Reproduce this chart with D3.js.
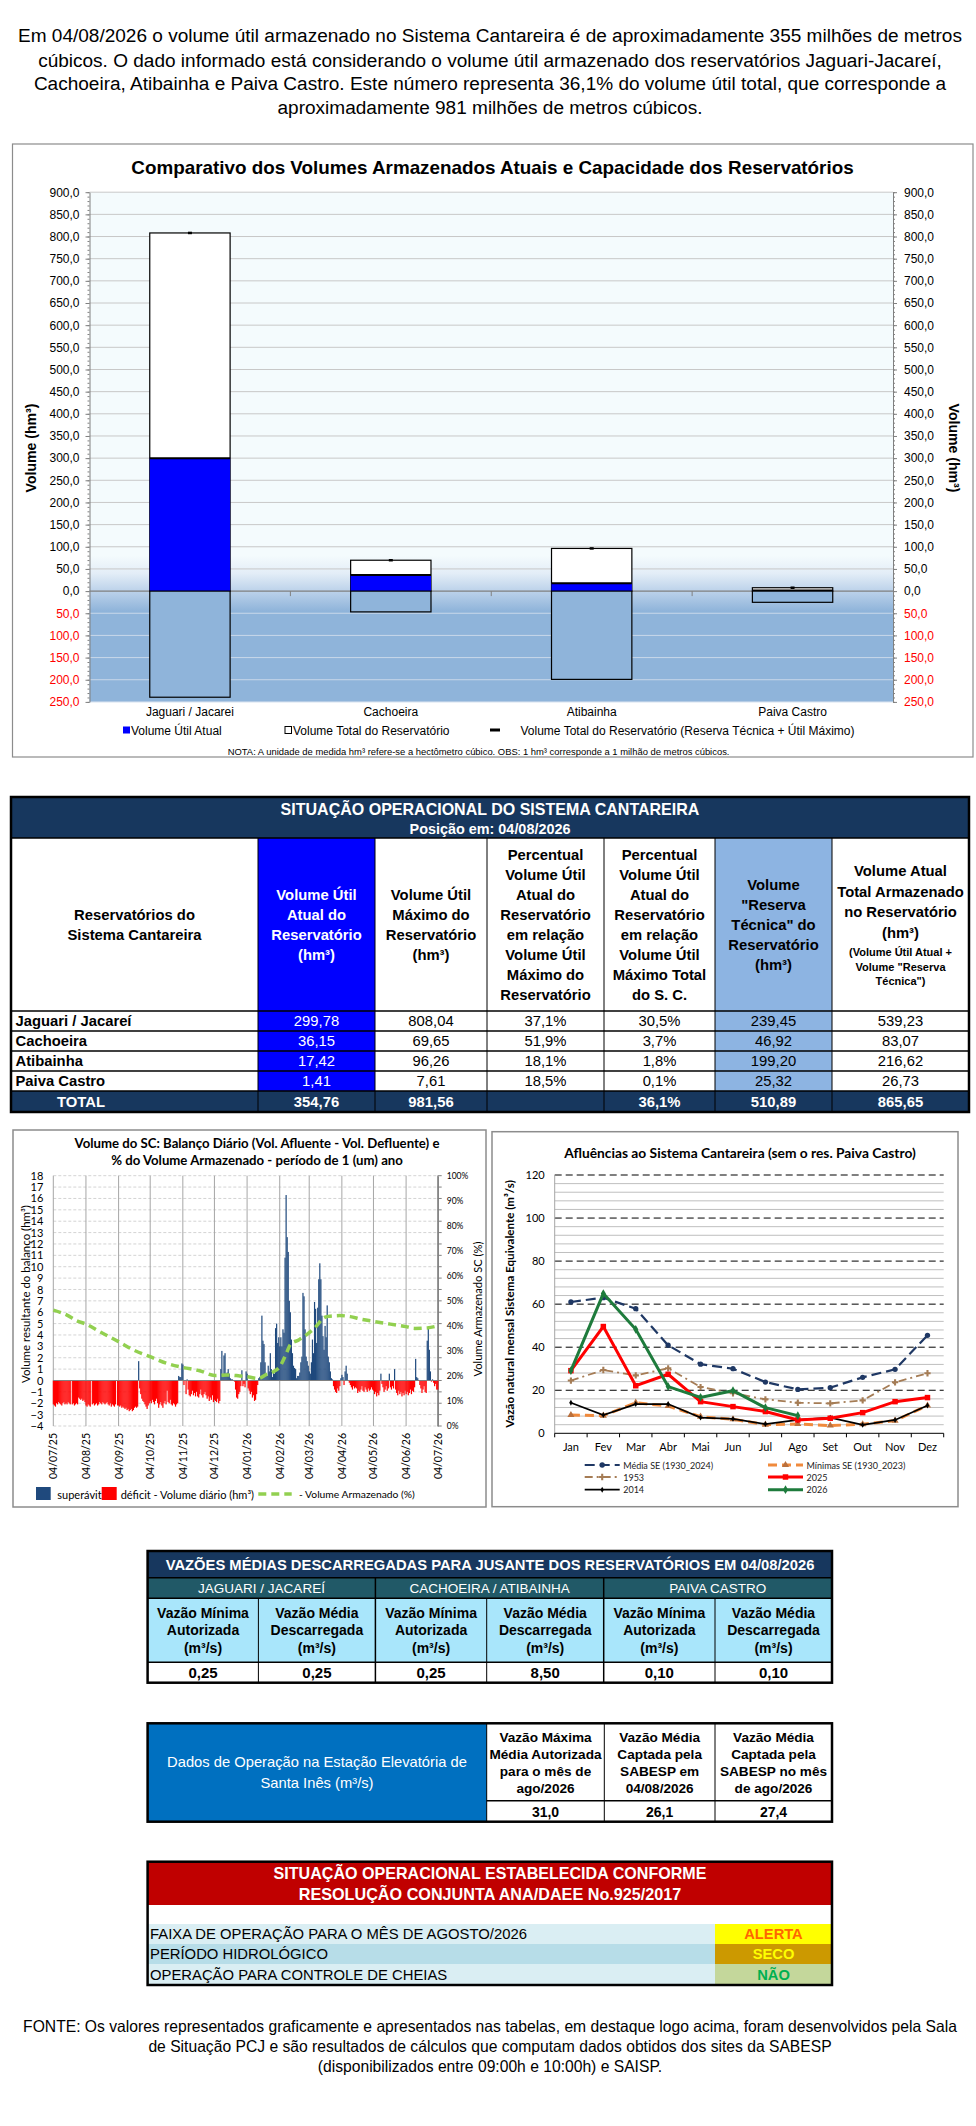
<!DOCTYPE html>
<html>
<head>
<meta charset="utf-8">
<script src="https://cdn.jsdelivr.net/npm/d3@7"></script>
<style>
  body { margin: 0; background: #fff; }
  svg { display: block; }
</style>
</head>
<body>
<svg id="pg" width="976" height="2126"></svg>
<script>
/** dados **/
var paragrafo = [
  "Em 04/08/2026 o volume útil armazenado no Sistema Cantareira é de aproximadamente 355 milhões de metros",
  "cúbicos. O dado informado está considerando o volume útil armazenado dos reservatórios Jaguari-Jacareí,",
  "Cachoeira, Atibainha e Paiva Castro. Este número representa 36,1% do volume útil total, que corresponde a",
  "aproximadamente 981 milhões de metros cúbicos."
];
var barCats = ["Jaguari / Jacarei", "Cachoeira", "Atibainha", "Paiva Castro"];
var reservatorios = ["Jaguari / Jacareí", "Cachoeira", "Atibainha", "Paiva Castro"];
var volUtilAtual = [299.78, 36.15, 17.42, 1.41];
var volUtilMax = [808.04, 69.65, 96.26, 7.61];
var pctUtilMax = [37.1, 51.9, 18.1, 18.5];
var pctTotalSC = [30.5, 3.7, 1.8, 0.1];
var reservaTecnica = [239.45, 46.92, 199.20, 25.32];
var volAtualTotal = [539.23, 83.07, 216.62, 26.73];

var cabecalho = [
  ["Reservatórios do", "Sistema Cantareira"],
  ["Volume Útil", "Atual do", "Reservatório", "(hm³)"],
  ["Volume Útil", "Máximo do", "Reservatório", "(hm³)"],
  ["Percentual", "Volume Útil", "Atual do", "Reservatório", "em relação", "Volume Útil", "Máximo do", "Reservatório"],
  ["Percentual", "Volume Útil", "Atual do", "Reservatório", "em relação", "Volume Útil", "Máximo Total", "do S. C."],
  ["Volume", "\"Reserva", "Técnica\" do", "Reservatório", "(hm³)"],
  ["Volume Atual", "Total Armazenado", "no Reservatório", "(hm³)"]
];
var cabecalhoNota = ["(Volume Útil Atual +", "Volume \"Reserva", "Técnica\")"];

// balanço diário (hm³), um valor por dia a partir de 04/07/25
var balanco = [
  // 04/07 - 03/08
  -2.1,-2.2,-2.3,-2.0,-2.1,-1.9,-2.0,-2.1,-2.2,-2.0,-1.9,-2.1,-2.0,-2.1,-1.9,-2.0,-2.1,0,-2.1,-2.0,-2.2,-2.1,-2.0,-2.1,-1.5,-1.6,-1.7,-1.6,-1.8,-1.7,-1.9,
  // 04/08 - 03/09
  -2.2,-2.3,-2.1,-2.2,-2.3,0,-2.1,-2.0,-2.2,-2.1,-2.0,-2.2,-2.1,-1.9,-2.0,-2.1,-1.9,-2.0,-2.1,-2.0,-1.9,-2.1,-2.2,-2.0,-2.3,-2.1,-2.2,-2.3,-2.1,0,-2.2,
  // 04/09 - 03/10
  -2.2,-2.3,-2.2,-2.4,-2.3,-2.4,-2.5,-2.4,-2.6,-2.5,-2.7,-2.6,-2.5,-2.7,-2.6,-2.4,-2.3,-2.4,-2.3,1.7,-0.7,-1.2,-1.6,-1.8,-1.9,-2.1,-2.3,-2.5,-2.2,-2.0,
  // 04/10 - 03/11
  -1.8,-2.0,-1.7,-1.9,-2.1,-1.8,-1.6,-2.0,-2.4,-2.1,-1.9,-2.2,-2.4,-2.0,-1.8,-2.1,-0.9,-1.9,-2.0,-1.7,-2.1,-2.2,-2.0,-2.1,-2.3,-2.1,-2.0,0.4,0.3,0.3,1.5,
  // 04/11 - 03/12
  1.4,-0.4,0,-1.2,0.1,-0.8,-1.3,-1.4,-1.2,-0.9,-1.3,-1.1,-1.4,-1.0,-1.4,-1.5,-1.2,-0.8,-1.3,-1.5,-1.2,-1.0,-1.3,-1.6,-1.4,-1.8,-1.5,-1.7,-1.3,-1.9,
  // 04/12 - 03/01
  -1.7,-1.8,-1.9,-1.6,-2.0,-1.8,1.0,2.6,0.3,2.2,2.4,0.6,0.7,1.0,0.6,0.2,0.1,0.1,0,-0.1,-0.8,-1.5,-1.6,-1.2,-1.0,-0.5,0.9,-0.5,-0.3,-0.6,0.8,
  // 04/01 - 03/02
  0.6,-0.7,-0.9,-1.2,-1.0,-1.5,-1.3,-1.8,-1.7,-1.2,-0.4,0.2,0.3,1.6,5.7,3.5,3.2,1.6,0.4,0.4,1.3,0.8,2.4,1.0,0.3,0.7,0.6,4.6,5.0,3.3,3.8,
  // 04/02 - 03/03
  3.0,3.8,3.0,4.5,4.2,10.8,16.3,12.6,11.3,7.0,6.0,3.6,2.4,1.3,1.1,1.0,0.2,0.4,0.4,0.7,1.6,2.1,7.7,7.4,4.5,2.1,1.7,1.3,
  // 04/03 - 03/04
  0.8,0.6,1.6,3.6,2.4,6.9,6.3,3.3,6.4,8.9,10.3,8.9,5.7,3.9,2.7,4.8,3.8,6.6,2.1,1.6,0.8,0.2,0.1,-0.5,-0.8,-1.0,-1.1,-0.7,-0.9,-0.5,0.2,
  // 04/04 - 03/05
  0.5,0.3,-0.4,0.8,1.3,0.6,0,-0.2,-0.4,-0.6,-0.8,-0.5,-0.7,-0.6,-0.7,-1.1,-0.9,-1.0,-0.8,-0.5,-0.9,-1.0,-0.6,-0.8,-1.0,-0.7,-0.9,-0.8,-0.6,-0.8,
  // 04/05 - 03/06
  -0.9,-1.2,-1.0,-1.4,-1.1,-1.3,-0.9,0.6,-0.3,-0.6,-1.0,-0.8,-0.5,-0.9,-0.7,0.6,-0.6,-0.8,-0.5,-0.7,1.0,-0.8,-1.1,-1.3,-0.9,-1.2,-1.0,-1.4,-1.1,-1.3,-0.9,
  // 04/06 - 04/07
  -1.2,-1.0,-1.3,-1.1,-0.8,-1.2,-0.9,-1.0,-0.6,1.9,0.3,0.2,0,-0.4,-0.7,-1.1,-0.8,-0.5,-1.0,-1.1,3.5,4.6,2.7,0.8,-0.1,0.1,-0.2,-0.5,-0.3,-0.8,-0.8
];
// volume armazenado (%) : [dia desde 04/07/25, %]
var volArmazenado = [
  [0,46.3],[13,44.3],[22,42.1],[31,40.7],[44,37.7],[62,33.7],[76,30.4],[92,27.7],[108,25.0],
  [123,23.4],[139,22.1],[153,20.2],[165,20.4],[177,20.0],[184,19.7],[195,19.0],[202,20.5],
  [209,21.7],[215,23.7],[222,29.7],[225,32.5],[233,34.4],[240,36.3],[250,40.0],[256,43.0],
  [261,43.8],[272,44.1],[282,43.7],[292,42.7],[304,41.8],[320,40.7],[335,39.7],[343,39.0],
  [355,39.2],[365,40.0]
];
var mesTicks = ["04/07/25","04/08/25","04/09/25","04/10/25","04/11/25","04/12/25","04/01/26",
  "04/02/26","04/03/26","04/04/26","04/05/26","04/06/26","04/07/26"];

var meses = ["Jan","Fev","Mar","Abr","Mai","Jun","Jul","Ago","Set","Out","Nov","Dez"];
var mediaSE = [61.0, 63.0, 57.9, 40.9, 32.1, 30.0, 23.8, 20.4, 21.2, 26.0, 29.7, 45.5];
var minimasSE = [8.5, 8.2, 14.2, 12.7, 7.7, 6.5, 4.0, 4.3, 3.6, 4.2, 5.9, 12.9];
var ano1953 = [24.5, 29.4, 26.9, 30.2, 21.5, 18.6, 15.8, 14.2, 13.9, 15.3, 23.7, 27.9];
var ano2025 = [29.1, 49.6, 22.1, 27.4, 14.7, 12.4, 10.1, 6.2, 7.0, 9.6, 14.7, 16.6];
var ano2014 = [14.2, 8.5, 13.6, 13.6, 7.3, 6.7, 4.3, 6.2, 7.3, 3.9, 6.2, 12.9];
var ano2026 = [29.1, 64.9, 48.3, 21.7, 16.7, 19.8, 11.9, 8.2];

var grupos = ["JAGUARI / JACAREÍ", "CACHOEIRA / ATIBAINHA", "PAIVA CASTRO"];
var cabVazao = [["Vazão Mínima", "Autorizada", "(m³/s)"], ["Vazão Média", "Descarregada", "(m³/s)"]];
var vazaoMinima = [0.25, 0.25, 0.10];
var vazaoMedia = [0.25, 8.50, 0.10];

var cabSantaInes = [
  ["Vazão Máxima", "Média Autorizada", "para o mês de", "ago/2026"],
  ["Vazão Média", "Captada pela", "SABESP em", "04/08/2026"],
  ["Vazão Média", "Captada pela", "SABESP no mês", "de ago/2026"]
];
var valSantaInes = [31.0, 26.1, 27.4];

var situacaoItens = ["FAIXA DE OPERAÇÃO PARA O MÊS DE AGOSTO/2026", "PERÍODO HIDROLÓGICO", "OPERAÇÃO PARA CONTROLE DE CHEIAS"];
var situacaoValores = ["ALERTA", "SECO", "NÃO"];

var fonte = [
  "FONTE: Os valores representados graficamente e apresentados nas tabelas, em destaque logo acima, foram desenvolvidos pela Sala",
  "de Situação PCJ e são resultados de cálculos que computam dados obtidos dos sites da SABESP",
  "(disponibilizados entre 09:00h e 10:00h) e SAISP."
];

/** helpers **/
var F = "'Liberation Sans', Arial, sans-serif";
var FC = "Lato, 'Open Sans', sans-serif";
var svg = d3.select("#pg");
var br = d3.formatLocale({decimal: ",", thousands: ".", grouping: [3], currency: ["", ""]});
var f1 = br.format(".1f"), f2 = br.format(".2f");

function fit(t, w) {
  var cur = t.node().getComputedTextLength();
  if (cur > 0) t.attr("font-size", parseFloat(t.attr("font-size")) * w / cur);
  return +t.attr("font-size");
}
function txt(g, x, y, s, o) {
  o = o || {};
  var t = g.append("text").attr("x", x).attr("y", y)
    .attr("font-family", o.ff || F).attr("font-size", o.fs || 12)
    .attr("font-weight", o.fw || "normal").attr("fill", o.fill || "#000")
    .attr("text-anchor", o.anchor || "middle").attr("dominant-baseline", "central")
    .text(s);
  if (o.rot) t.attr("transform", "rotate(" + o.rot + "," + x + "," + y + ")");
  if (o.fit) fit(t, o.fit);
  return t;
}
function block(g, cx, cy, arr, lh, o) {
  arr.forEach(function(s, i) { txt(g, cx, cy + (i - (arr.length - 1) / 2) * lh, s, o); });
}
function rect(g, x0, y0, x1, y1, fill, stroke, sw) {
  return g.append("rect").attr("x", x0).attr("y", y0).attr("width", x1 - x0).attr("height", y1 - y0)
    .attr("fill", fill || "none").attr("stroke", stroke || "none").attr("stroke-width", sw || 1);
}
function line(g, x1, y1, x2, y2, stroke, sw, dash) {
  var l = g.append("line").attr("x1", x1).attr("y1", y1).attr("x2", x2).attr("y2", y2)
    .attr("stroke", stroke).attr("stroke-width", sw || 1);
  if (dash) l.attr("stroke-dasharray", dash);
  return l;
}

/** paragrafo **/
var gp = svg.append("g");
var pfs = fit(txt(gp, 490, 35, paragrafo[0], {fs: 18}), 945);
[60, 83.5, 107].forEach(function(y, i) { txt(gp, 490, y, paragrafo[i + 1], {fs: pfs}); });

/** grafico de barras **/
var bc = svg.append("g");
rect(bc, 12.5, 144, 973, 757, "#fff", "#8c8c8c", 1.2);
var yB = d3.scaleLinear().domain([-250, 900]).range([701.9, 192.2]);
var xB = d3.scaleBand().domain(barCats).range([89.5, 893]).paddingInner(0.6).paddingOuter(0.3);

var defs = svg.append("defs");
var lg = defs.append("linearGradient").attr("id", "bgGrad").attr("gradientUnits", "userSpaceOnUse")
  .attr("x1", 0).attr("x2", 0).attr("y1", yB(900)).attr("y2", yB(-250));
var off = function(v) { return (yB(v) - yB(900)) / (yB(-250) - yB(900)); };
[[900, "#f4fbfd"], [80, "#f4fbfd"], [40, "#e3edf7"], [0, "#bcd2ea"], [-45, "#8fb4da"], [-250, "#8fb4da"]]
  .forEach(function(s) { lg.append("stop").attr("offset", off(s[0])).attr("stop-color", s[1]); });
rect(bc, 89.5, yB(900), 893, yB(-250), "url(#bgGrad)");

var yTicksB = d3.range(-250, 901, 50);
bc.append("g").selectAll("line").data(yTicksB.filter(function(v) { return v !== 0; })).enter().append("line")
  .attr("x1", 89.5).attr("x2", 893).attr("y1", yB).attr("y2", yB)
  .attr("stroke", function(v) { return v < 0 ? "#c9d8ea" : "#c8c8c8"; }).attr("stroke-width", 1);
line(bc, 89.5, yB(0), 893, yB(0), "#7f7f7f", 1.2);

function eixoB(x, gen, pad) {
  var a = bc.append("g").attr("transform", "translate(" + x + ",0)")
    .call(gen(yB).tickValues(yTicksB).tickSize(4).tickSizeOuter(0).tickPadding(pad)
      .tickFormat(function(v) { return f1(Math.abs(v)); }));
  a.attr("font-family", F).attr("font-size", 12);
  a.selectAll("text").attr("fill", function(v) { return v < 0 ? "#ff0000" : "#000"; });
  a.selectAll("line,path").attr("stroke", "#808080");
  var m = bc.append("g").attr("transform", "translate(" + x + ",0)")
    .call(gen(yB).tickValues(d3.range(-250, 901, 10)).tickSize(2).tickSizeOuter(0).tickFormat(""));
  m.selectAll("line").attr("stroke", "#808080");
  m.select(".domain").remove();
}
eixoB(89.5, d3.axisLeft, 6);
eixoB(893, d3.axisRight, 7);

d3.range(1, barCats.length).forEach(function(i) {
  var x = 89.5 + i * xB.step();
  line(bc, x, yB(0), x, yB(0) + 5, "#808080", 1);
});

var bars = bc.append("g").selectAll("g").data(barCats).enter().append("g");
bars.append("rect").attr("x", function(d) { return xB(d); }).attr("width", xB.bandwidth())
  .attr("y", function(d, i) { return yB(volUtilMax[i]); })
  .attr("height", function(d, i) { return yB(0) - yB(volUtilMax[i]); })
  .attr("fill", "#fff").attr("stroke", "#000").attr("stroke-width", 1.2);
bars.append("rect").attr("x", function(d) { return xB(d); }).attr("width", xB.bandwidth())
  .attr("y", function(d, i) { return yB(volUtilAtual[i]); })
  .attr("height", function(d, i) { return yB(0) - yB(volUtilAtual[i]); })
  .attr("fill", "#0000ff");
bars.append("line").attr("x1", function(d) { return xB(d); }).attr("x2", function(d) { return xB(d) + xB.bandwidth(); })
  .attr("y1", function(d, i) { return yB(volUtilAtual[i]); }).attr("y2", function(d, i) { return yB(volUtilAtual[i]); })
  .attr("stroke", "#000").attr("stroke-width", 2);
bars.append("rect").attr("x", function(d) { return xB(d); }).attr("width", xB.bandwidth())
  .attr("y", yB(0))
  .attr("height", function(d, i) { return yB(-reservaTecnica[i]) - yB(0); })
  .attr("fill", "#8fb4da").attr("stroke", "#000").attr("stroke-width", 1.2);
bars.append("line").attr("x1", function(d) { return xB(d) + xB.bandwidth() / 2 - 2; })
  .attr("x2", function(d) { return xB(d) + xB.bandwidth() / 2 + 2; })
  .attr("y1", function(d, i) { return yB(volUtilMax[i]); }).attr("y2", function(d, i) { return yB(volUtilMax[i]); })
  .attr("stroke", "#000").attr("stroke-width", 2.5);

barCats.forEach(function(c) { txt(bc, xB(c) + xB.bandwidth() / 2, 712, c, {fs: 12}); });
txt(bc, 492.5, 167, "Comparativo dos Volumes Armazenados Atuais e Capacidade dos Reservatórios", {fs: 17, fw: "bold", fit: 723});
txt(bc, 31, 448, "Volume (hm³)", {fs: 13, fw: "bold", rot: -90, fit: 89});
txt(bc, 954, 448, "Volume (hm³)", {fs: 13, fw: "bold", rot: 90, fit: 89});

rect(bc, 123, 726.5, 130, 733.5, "#0000ff");
txt(bc, 131, 730.5, "Volume Útil Atual", {fs: 12, anchor: "start"});
rect(bc, 285, 726.5, 291.5, 733.5, "#fff", "#000", 1);
txt(bc, 293, 730.5, "Volume Total do Reservatório", {fs: 12, anchor: "start"});
line(bc, 490, 730, 500, 730, "#000", 3);
txt(bc, 520.5, 730.5, "Volume Total do Reservatório (Reserva Técnica + Útil Máximo)", {fs: 12, anchor: "start"});
txt(bc, 478.6, 751, "NOTA: A unidade de medida hm³ refere-se a hectômetro cúbico. OBS: 1 hm³ corresponde a 1 milhão de metros cúbicos.", {fs: 8.5, fit: 503});

/** tabela situação operacional **/
var tb = svg.append("g");
var colX = [11, 258, 375, 487, 604, 715, 832, 969];
var rowY = [797, 838, 1011, 1031, 1051, 1071, 1091, 1112];
var navy = "#17375e";
rect(tb, colX[0], rowY[0], colX[7], rowY[1], navy);
rect(tb, colX[0], rowY[6], colX[7], rowY[7], navy);
[[1, "#0000ff"], [5, "#8db4e2"]].forEach(function(c) {
  rect(tb, colX[c[0]], rowY[1], colX[c[0] + 1], rowY[6], c[1]);
});
txt(tb, 490, 808.5, "SITUAÇÃO OPERACIONAL DO SISTEMA CANTAREIRA", {fs: 14.5, fw: "bold", fill: "#fff", fit: 419});
txt(tb, 490, 829, "Posição em: 04/08/2026", {fs: 14, fw: "bold", fill: "#fff", fit: 161});

cabecalho.forEach(function(h, c) {
  var cx = (colX[c] + colX[c + 1]) / 2;
  var col = c === 1 ? "#fff" : "#000";
  if (c === 6) {
    h.forEach(function(s, i) { txt(tb, cx, 871 + i * 20.5, s, {fs: 14.8, fw: "bold"}); });
    cabecalhoNota.forEach(function(s, i) { txt(tb, cx, 952 + i * 14.5, s, {fs: 11, fw: "bold"}); });
  } else {
    block(tb, cx, 925, h, 20, {fs: 14.8, fw: "bold", fill: col});
  }
});

var linhas = reservatorios.map(function(r, i) {
  return [r, f2(volUtilAtual[i]), f2(volUtilMax[i]), f1(pctUtilMax[i]) + "%", f1(pctTotalSC[i]) + "%",
    f2(reservaTecnica[i]), f2(volAtualTotal[i])];
});
linhas.forEach(function(l, r) {
  var cy = (rowY[r + 2] + rowY[r + 3]) / 2;
  l.forEach(function(s, c) {
    if (c === 0) txt(tb, 15.5, cy, s, {fs: 14.8, fw: "bold", anchor: "start"});
    else txt(tb, (colX[c] + colX[c + 1]) / 2, cy, s, {fs: 14.8, fill: c === 1 ? "#fff" : "#000"});
  });
});
var totais = ["TOTAL", f2(d3.sum(volUtilAtual)), f2(d3.sum(volUtilMax)), "",
  f1(d3.sum(volUtilAtual) / d3.sum(volUtilMax) * 100) + "%", f2(d3.sum(reservaTecnica)), f2(d3.sum(volAtualTotal))];
totais.forEach(function(s, c) {
  var cx = c === 0 ? 81 : (colX[c] + colX[c + 1]) / 2;
  txt(tb, cx, 1101.5, s, {fs: 14.8, fw: "bold", fill: "#fff"});
});
d3.range(1, 7).forEach(function(c) { line(tb, colX[c], rowY[1], colX[c], rowY[7], "#000", 1); });
d3.range(1, 7).forEach(function(r) { line(tb, colX[0], rowY[r], colX[7], rowY[r], "#000", 1.5); });
rect(tb, colX[0], rowY[0], colX[7], rowY[7], "none", "#000", 2.5);

/** balanço diário **/
var gl = svg.append("g");
rect(gl, 13, 1130, 486, 1507, "#fff", "#8c8c8c", 1.5);
var t0 = new Date(2025, 6, 4);
var xL = d3.scaleTime().domain([t0, new Date(2026, 6, 4)]).range([53.3, 437.7]);
var yL = d3.scaleLinear().domain([-4, 18]).range([1426, 1175.7]);
var yL2 = d3.scaleLinear().domain([0, 100]).range([1426, 1175.7]);
var dia = function(i) { return d3.timeDay.offset(t0, i); };
var parseTick = d3.timeParse("%d/%m/%y");

d3.range(-4, 19).forEach(function(v) {
  if (v !== 0) line(gl, 53.3, yL(v), 437.7, yL(v), "#d4d4d4", 1, "3,2");
});
mesTicks.forEach(function(s) {
  var x = xL(parseTick(s));
  line(gl, x, 1175.7, x, 1426, "#a6a6a6", 1);
});
var ayL = gl.append("g").attr("transform", "translate(53.3,0)")
  .call(d3.axisLeft(yL).tickValues(d3.range(-4, 19)).tickSize(0).tickPadding(10).tickFormat(d3.format("d")));
ayL.attr("font-family", FC).attr("font-size", 11);
ayL.select(".domain").remove();
var ayR = gl.append("g").attr("transform", "translate(437.7,0)")
  .call(d3.axisRight(yL2).tickValues(d3.range(0, 101, 10)).tickSize(0).tickPadding(9)
    .tickFormat(function(v) { return v + "%"; }));
ayR.attr("font-family", FC).attr("font-size", 8.5);
ayR.select(".domain").attr("stroke", "#808080").attr("stroke-width", 1.5);
d3.range(-4, 19).forEach(function(v) { line(gl, 437.7, yL(v), 441.7, yL(v), "#808080", 1); });

var bw = xL(dia(1)) - xL(dia(0));
gl.append("g").selectAll("rect").data(balanco).enter().append("rect")
  .attr("x", function(d, i) { return xL(dia(i)) - bw / 2; })
  .attr("width", bw + 0.15)
  .attr("y", function(d) { return d >= 0 ? yL(d) : yL(0); })
  .attr("height", function(d) { return Math.abs(yL(d) - yL(0)); })
  .attr("fill", function(d) { return d >= 0 ? "#1f497d" : "#ff0000"; });
line(gl, 53.3, yL(0), 437.7, yL(0), "#808080", 1.2);

gl.append("path").datum(volArmazenado)
  .attr("d", d3.line().x(function(d) { return xL(dia(d[0])); }).y(function(d) { return yL2(d[1]); }).curve(d3.curveMonotoneX))
  .attr("fill", "none").attr("stroke", "#92d050").attr("stroke-width", 3.5).attr("stroke-dasharray", "8,5");

mesTicks.forEach(function(s) {
  txt(gl, xL(parseTick(s)), 1433, s, {ff: FC, fs: 10.5, anchor: "end", rot: -90});
});
var tfs = fit(txt(gl, 257, 1143, "Volume do SC: Balanço Diário (Vol. Afluente - Vol. Defluente) e", {ff: FC, fs: 12.5, fw: "bold"}), 365);
txt(gl, 257, 1159.5, "% do Volume Armazenado - período de 1 (um) ano", {ff: FC, fs: tfs, fw: "bold"});
txt(gl, 25, 1294, "Volume resultante do balanço (hm³)", {ff: FC, fs: 11.5, rot: -90, fit: 178});
txt(gl, 477, 1309, "Volume Armazenado SC (%)", {ff: FC, fs: 11.5, rot: -90, fit: 135});

rect(gl, 36, 1487, 50.7, 1500, "#1f497d");
txt(gl, 57.3, 1494, "superávit", {ff: FC, fs: 11, anchor: "start"});
rect(gl, 101.7, 1487, 116.7, 1500, "#ff0000");
txt(gl, 120.7, 1494, "déficit -  Volume diário (hm³)", {ff: FC, fs: 11, anchor: "start"});
line(gl, 258.3, 1494, 291.7, 1494, "#92d050", 3.5, "8,5");
txt(gl, 299, 1494, "-  Volume Armazenado (%)", {ff: FC, fs: 11, anchor: "start", fit: 116});

/** afluências **/
var gr = svg.append("g");
rect(gr, 492, 1131.7, 958, 1506.7, "#fff", "#8c8c8c", 1.5);
var xR = d3.scaleBand().domain(meses).range([554.7, 943.7]);
var yR = d3.scaleLinear().domain([0, 120]).range([1433.3, 1175]);
d3.range(4, 121, 4).forEach(function(v) {
  if (v % 20 !== 0) line(gr, 554.7, yR(v), 943.7, yR(v), "#bfbfbf", 1);
});
d3.range(20, 121, 20).forEach(function(v) { line(gr, 554.7, yR(v), 943.7, yR(v), "#000", 1, "7,4"); });
line(gr, 554.7, yR(120), 554.7, yR(0), "#a6a6a6", 1);
line(gr, 554.7, yR(0), 943.7, yR(0), "#000", 1);
d3.range(0, 13).forEach(function(i) {
  var x = 554.7 + i * xR.step();
  line(gr, x, yR(0), x, yR(0) + 4, "#000", 1);
});
var ayA = gr.append("g").attr("transform", "translate(554.7,0)")
  .call(d3.axisLeft(yR).tickValues(d3.range(0, 121, 20)).tickSize(0).tickPadding(10));
ayA.attr("font-family", FC).attr("font-size", 11);
ayA.select(".domain").remove();
meses.forEach(function(m) { txt(gr, xR(m) + xR.step() / 2, 1446.7, m, {ff: FC, fs: 11}); });

var cx = function(i) { return xR(meses[i]) + xR.step() / 2; };
var series = [
  {nome: "Média SE (1930_2024)", v: mediaSE, cor: "#1f3864", w: 2.2, dash: "10,5", sym: d3.symbolCircle, sz: 22, mk: "#1f3864"},
  {nome: "Mínimas SE (1930_2023)", v: minimasSE, cor: "#f08a3c", w: 3, dash: "9,5", sym: d3.symbolTriangle, sz: 22, mk: "#b9703d"},
  {nome: "1953", v: ano1953, cor: "#a57c55", w: 1.8, dash: "8,4,2,4", sym: d3.symbolCross, sz: 22, mk: "#a57c55"},
  {nome: "2025", v: ano2025, cor: "#ff0000", w: 3, dash: null, sym: d3.symbolSquare, sz: 30, mk: "#ff0000"},
  {nome: "2014", v: ano2014, cor: "#000", w: 1.8, dash: null, sym: d3.symbolDiamond, sz: 10, mk: "#000"},
  {nome: "2026", v: ano2026, cor: "#1e7b3c", w: 3, dash: null, sym: d3.symbolDiamond, sz: 22, mk: "#1e7b3c"}
];
var drawOrder = [1, 2, 0, 4, 3, 5];
drawOrder.forEach(function(k) {
  var s = series[k];
  var p = gr.append("path").datum(s.v)
    .attr("d", d3.line().x(function(d, i) { return cx(i); }).y(function(d) { return yR(d); }))
    .attr("fill", "none").attr("stroke", s.cor).attr("stroke-width", s.w);
  if (s.dash) p.attr("stroke-dasharray", s.dash);
  gr.append("g").selectAll("path").data(s.v).enter().append("path")
    .attr("d", d3.symbol().type(s.sym).size(s.sz))
    .attr("transform", function(d, i) { return "translate(" + cx(i) + "," + yR(d) + ")"; })
    .attr("fill", s.mk);
});
var tfs2 = fit(txt(gr, 740, 1152, "Afluências ao Sistema Cantareira (sem o res. Paiva Castro)", {ff: FC, fs: 13, fw: "bold"}), 352);
txt(gr, 509.7, 1304, "Vazão natural  mensal Sistema Equivalente  (m³/s)", {ff: FC, fs: 10.5, fw: "bold", rot: -90, fit: 248});

var legPos = [[584.7, 1465], [768, 1465], [584.7, 1477], [768, 1477], [584.7, 1489.7], [768, 1489.7]];
series.forEach(function(s, k) {
  var x = legPos[k][0], y = legPos[k][1];
  var l = line(gr, x, y, x + 35, y, s.cor, s.w);
  if (s.dash) l.attr("stroke-dasharray", s.dash);
  gr.append("path").attr("d", d3.symbol().type(s.sym).size(s.sz))
    .attr("transform", "translate(" + (x + 17.5) + "," + y + ")").attr("fill", s.mk);
  txt(gr, x + 38.5, y, s.nome, {ff: FC, fs: 9, anchor: "start", fill: "#222"});
});

/** vazões descarregadas **/
var gv = svg.append("g");
var vx = [147.6, 258.4, 375.4, 486.7, 603.7, 715, 832];
var vy = [1551, 1577.7, 1598.3, 1662.3, 1682.7];
rect(gv, vx[0], vy[0], vx[6], vy[1], navy);
rect(gv, vx[0], vy[1], vx[6], vy[2], "#215967");
rect(gv, vx[0], vy[2], vx[6], vy[3], "#a9e6fb");
txt(gv, 490, 1564.5, "VAZÕES MÉDIAS DESCARREGADAS PARA JUSANTE DOS RESERVATÓRIOS EM 04/08/2026", {fs: 14, fw: "bold", fill: "#fff", fit: 649});
grupos.forEach(function(gname, i) {
  txt(gv, (vx[2 * i] + vx[2 * i + 2]) / 2, 1588, gname, {fs: 13.5, fill: "#fff"});
  cabVazao.forEach(function(h, j) {
    var c = 2 * i + j, ccx = (vx[c] + vx[c + 1]) / 2;
    block(gv, ccx, 1630.3, h, 17.8, {fs: 14, fw: "bold"});
    txt(gv, ccx, 1672.7, f2(j === 0 ? vazaoMinima[i] : vazaoMedia[i]), {fs: 15, fw: "bold"});
  });
});
[1, 3, 5].forEach(function(c) { line(gv, vx[c], vy[2], vx[c], vy[4], "#000", 1); });
[2, 4].forEach(function(c) { line(gv, vx[c], vy[1], vx[c], vy[4], "#000", 1.5); });
line(gv, vx[0], vy[1], vx[6], vy[1], "#000", 1.5);
line(gv, vx[0], vy[2], vx[6], vy[2], "#000", 1.5);
line(gv, vx[0], vy[3], vx[6], vy[3], "#000", 1.5);
rect(gv, vx[0], vy[0], vx[6], vy[4], "none", "#000", 2.5);

/** santa inês **/
var gs = svg.append("g");
var sx = [147.6, 486.7, 604.3, 715, 832];
var sy = [1723.3, 1800.7, 1821.7];
rect(gs, sx[0], sy[0], sx[1], sy[2], "#0070c0");
var sfs = fit(txt(gs, 317, 1762.3, "Dados de Operação na Estação Elevatória de", {fs: 15, fill: "#fff"}), 300);
txt(gs, 317, 1783.3, "Santa Inês (m³/s)", {fs: sfs, fill: "#fff"});
cabSantaInes.forEach(function(h, i) {
  var ccx = (sx[i + 1] + sx[i + 2]) / 2;
  block(gs, ccx, 1763, h, 17.1, {fs: 13.6, fw: "bold"});
  txt(gs, ccx, 1811.7, f1(valSantaInes[i]), {fs: 14, fw: "bold"});
});
[2, 3].forEach(function(c) { line(gs, sx[c], sy[0], sx[c], sy[2], "#000", 1); });
line(gs, sx[1], sy[0], sx[1], sy[2], "#000", 1);
line(gs, sx[1], sy[1], sx[4], sy[1], "#000", 1.5);
rect(gs, sx[0], sy[0], sx[4], sy[2], "none", "#000", 2.5);

/** situação conforme resolução **/
var go = svg.append("g");
var ox = [147.6, 715, 832];
var oy = [1861.7, 1905, 1924, 1944, 1964, 1985];
rect(go, ox[0], oy[0], ox[2], oy[1], "#c00000");
txt(go, 490, 1873.3, "SITUAÇÃO OPERACIONAL ESTABELECIDA CONFORME", {fs: 15, fw: "bold", fill: "#fff", fit: 433});
txt(go, 490, 1894, "RESOLUÇÃO CONJUNTA ANA/DAEE No.925/2017", {fs: 15, fw: "bold", fill: "#fff", fit: 383});
var fundoItem = ["#daeef3", "#b7dde8", "#daeef3"];
var fundoValor = ["#ffff00", "#cc9900", "#c4d79b"];
var corValor = ["#ff6600", "#ffff00", "#00b050"];
var ofs = 14.5;
situacaoItens.forEach(function(s, i) {
  rect(go, ox[0], oy[i + 2], ox[1], oy[i + 3], fundoItem[i]);
  rect(go, ox[1], oy[i + 2], ox[2], oy[i + 3], fundoValor[i]);
  var t = txt(go, 150, (oy[i + 2] + oy[i + 3]) / 2, s, {fs: ofs, anchor: "start"});
  if (i === 0) ofs = fit(t, 377);
  txt(go, (ox[1] + ox[2]) / 2, (oy[i + 2] + oy[i + 3]) / 2, situacaoValores[i], {fs: 14.7, fw: "bold", fill: corValor[i]});
});
rect(go, ox[0], oy[0], ox[2], oy[5], "none", "#000", 2.5);

/** fonte **/
var gf = svg.append("g");
var ffs = fit(txt(gf, 490, 2026.7, fonte[0], {fs: 14}), 935);
txt(gf, 490, 2046.7, fonte[1], {fs: ffs});
txt(gf, 490, 2066.7, fonte[2], {fs: ffs});
</script>
</body>
</html>
